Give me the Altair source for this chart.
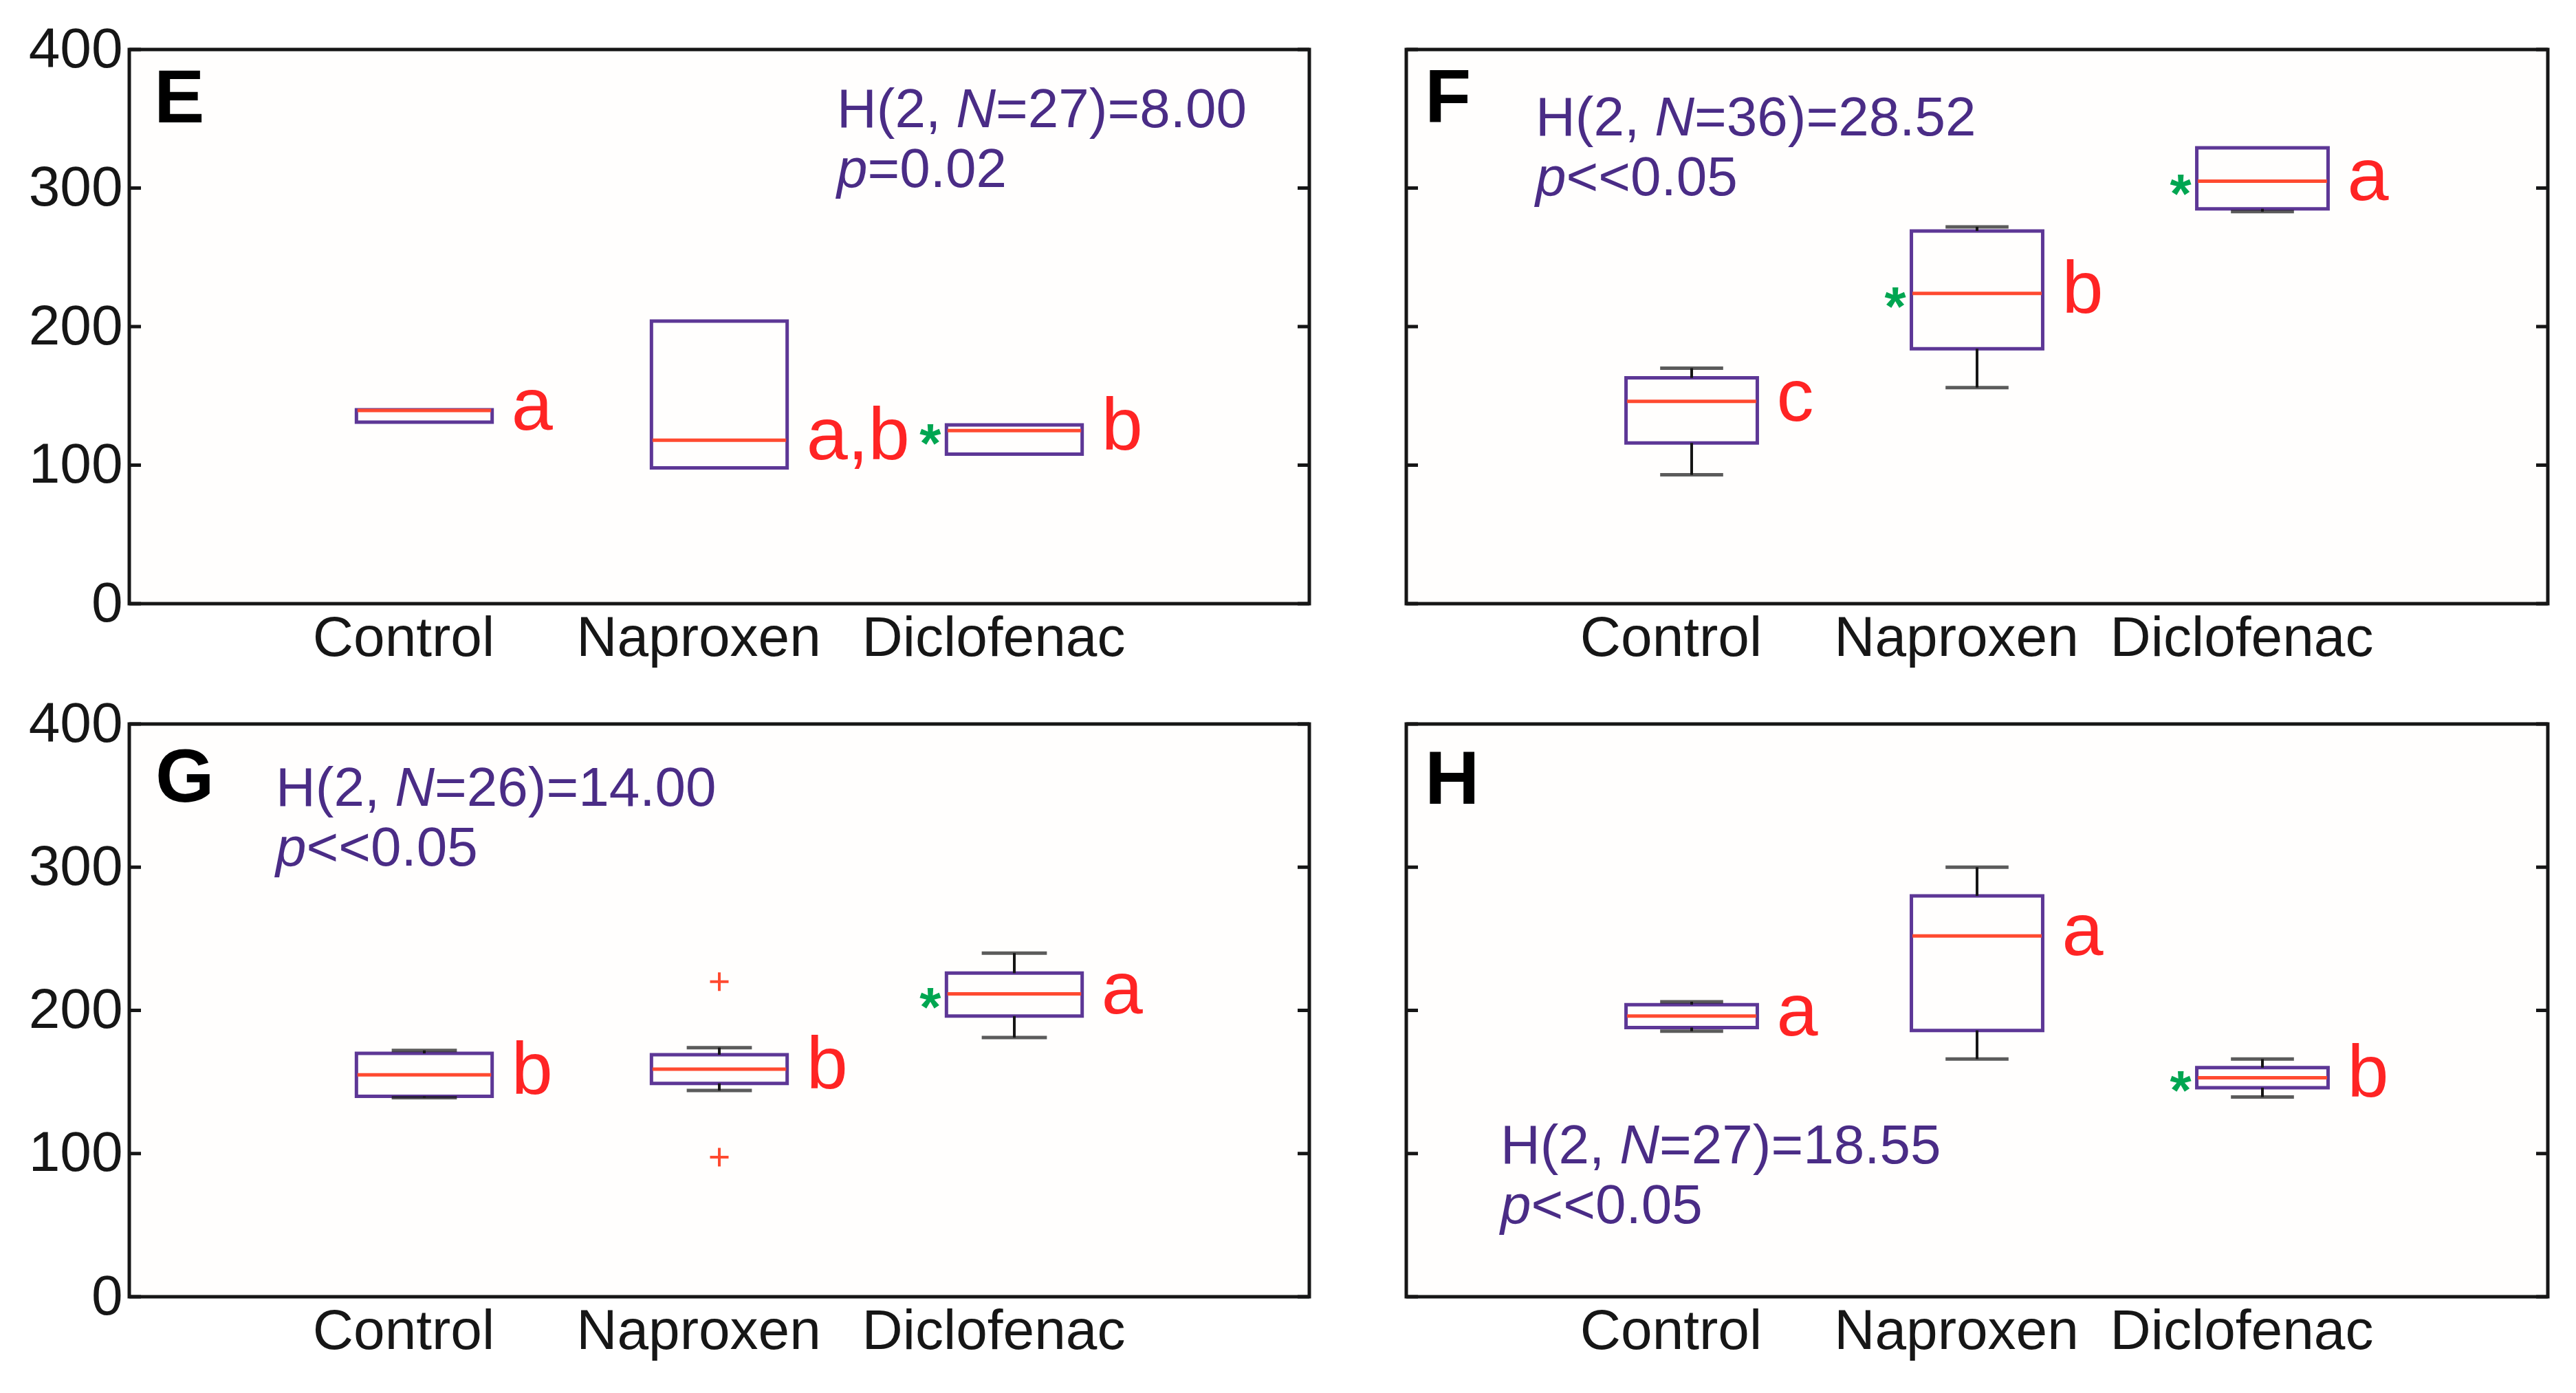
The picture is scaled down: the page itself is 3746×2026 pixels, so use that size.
import altair as alt
import pandas as pd

categories = ["Control", "Naproxen", "Diclofenac"]
y_ticks = [0, 100, 200, 300, 400]

# Panel E
E_min = [131, 98, 108]
E_q1 = [131, 98, 108]
E_median = [139.5, 118, 125]
E_q3 = [140, 204, 129]
E_max = [140, 204, 129]
E_letters = ["a", "a,b", "b"]
E_star = [False, False, True]

# Panel F
F_min = [93, 156, 283]
F_q1 = [116, 184, 285]
F_median = [146, 224, 305]
F_q3 = [163, 269, 329]
F_max = [170, 272, 329]
F_letters = ["c", "b", "a"]
F_star = [False, True, True]

# Panel G
G_min = [139, 144, 181]
G_q1 = [140, 149, 196]
G_median = [155, 159, 211.5]
G_q3 = [170, 169, 226]
G_max = [172, 174, 240]
G_letters = ["b", "b", "a"]
G_star = [False, False, True]
G_outlier_cat = ["Naproxen", "Naproxen"]
G_outlier_val = [220, 97.5]

# Panel H
H_min = [185.5, 166, 139.5]
H_q1 = [188, 186, 146]
H_median = [196, 252, 153]
H_q3 = [204, 280, 160]
H_max = [206, 300, 166]
H_letters = ["a", "a", "b"]
H_star = [False, False, True]

E_stat = [[("H(2, ", False), ("N", True), ("=27)=8.00", False)], [("p", True), ("=0.02", False)]]
F_stat = [[("H(2, ", False), ("N", True), ("=36)=28.52", False)], [("p", True), ("<<0.05", False)]]
G_stat = [[("H(2, ", False), ("N", True), ("=26)=14.00", False)], [("p", True), ("<<0.05", False)]]
H_stat = [[("H(2, ", False), ("N", True), ("=27)=18.55", False)], [("p", True), ("<<0.05", False)]]

FONT = "Liberation Sans, Arial, Helvetica, sans-serif"
PURPLE_TXT = "#4a2c86"
PURPLE_BOX = "#5d3796"
MEDIAN_RED = "#ff4a30"
LETTER_RED = "#ff2424"
GREEN = "#00a651"
BLACK = "#161616"

ARIAL_W = {"H": 722, "(": 333, ")": 333, ",": 278, " ": 278, "N": 722, "=": 584,
           ".": 278, "p": 556, "<": 584}


def text_width(s, size):
    return sum(ARIAL_W.get(c, 556) for c in s) / 1000.0 * size


def make_panel(W, Hh, mins, q1s, meds, q3s, maxs, letters, stars, stat, stat_x, stat_y,
               letter, letter_x, letter_y, show_labels, out_cat=None, out_val=None):
    df = pd.DataFrame({"cat": categories, "min": mins, "q1": q1s, "med": meds,
                       "q3": q3s, "max": maxs, "letter": letters, "star": stars})
    bw = W * 0.115
    yscale = alt.Scale(domain=[0, 400], nice=False, zero=True)
    if show_labels:
        yaxis = alt.Axis(values=y_ticks, ticks=False, domain=False, grid=False, title=None,
                         labelFontSize=82, labelPadding=10, labelColor=BLACK, labelFont=FONT)
    else:
        yaxis = None
    xenc = alt.X("cat:N", sort=categories,
                 scale=alt.Scale(paddingInner=0.54, paddingOuter=0.77),
                 axis=alt.Axis(title=None, labelAngle=0, ticks=False, domain=False,
                               labelFontSize=82, labelPadding=10, labelColor=BLACK,
                               labelFont=FONT, labelLimit=2000, labelOffset=-30))
    base = alt.Chart(df)
    box = base.mark_bar(fill="transparent", stroke=PURPLE_BOX, strokeWidth=5).encode(
        x=xenc, y=alt.Y("q1:Q", scale=yscale, axis=yaxis), y2="q3:Q")
    whisk_up = base.transform_filter("datum.max > datum.q3").mark_rule(
        color=BLACK, strokeWidth=4).encode(x=xenc, y=alt.Y("q3:Q", scale=yscale, axis=yaxis), y2="max:Q")
    whisk_dn = base.transform_filter("datum.min < datum.q1").mark_rule(
        color=BLACK, strokeWidth=4).encode(x=xenc, y=alt.Y("min:Q", scale=yscale, axis=yaxis), y2="q1:Q")
    cap_up = base.transform_filter("datum.max > datum.q3").mark_tick(
        orient="horizontal", color=BLACK, thickness=5, size=bw * 0.48).encode(
        x=xenc, y=alt.Y("max:Q", scale=yscale, axis=yaxis))
    cap_dn = base.transform_filter("datum.min < datum.q1").mark_tick(
        orient="horizontal", color=BLACK, thickness=5, size=bw * 0.48).encode(
        x=xenc, y=alt.Y("min:Q", scale=yscale, axis=yaxis))
    median = base.mark_tick(orient="horizontal", color=MEDIAN_RED, thickness=5,
                            size=bw - 3, opacity=1).encode(
        x=xenc, y=alt.Y("med:Q", scale=yscale, axis=yaxis))
    lett = base.mark_text(align="left", baseline="alphabetic", dx=bw / 2 + 28, dy=28,
                          fontSize=108, font=FONT, color=LETTER_RED).encode(
        x=xenc, y=alt.Y("med:Q", scale=yscale, axis=yaxis), text="letter:N")
    star = base.transform_filter("datum.star").mark_text(
        align="right", baseline="alphabetic", dx=-(bw / 2 + 8), dy=46, fontSize=80,
        fontWeight="bold", font=FONT, color=GREEN, text="*").encode(
        x=xenc, y=alt.Y("med:Q", scale=yscale, axis=yaxis))

    tdf = pd.DataFrame({"v": y_ticks})
    tick_l = alt.Chart(tdf).mark_rule(color=BLACK, strokeWidth=5).encode(
        y=alt.Y("v:Q", scale=yscale, axis=yaxis), x=alt.value(0), x2=alt.value(17))
    tick_r = alt.Chart(tdf).mark_rule(color=BLACK, strokeWidth=5).encode(
        y=alt.Y("v:Q", scale=yscale, axis=yaxis), x=alt.value(W - 17), x2=alt.value(W))

    layers = [tick_l, tick_r, box, whisk_up, whisk_dn, cap_up, cap_dn, median, lett, star]

    if out_cat is not None:
        odf = pd.DataFrame({"cat": out_cat, "val": out_val})
        outl = alt.Chart(odf).mark_point(shape="M-1,0L1,0M0,-1L0,1", filled=False,
                                         size=729, strokeWidth=4, color=MEDIAN_RED,
                                         opacity=1).encode(
            x=xenc, y=alt.Y("val:Q", scale=yscale, axis=yaxis))
        layers.append(outl)

    for li, line in enumerate(stat):
        xx = stat_x
        yy = stat_y + li * 87
        for seg, ital in line:
            t = alt.Chart(pd.DataFrame({"t": [seg]})).mark_text(
                align="left", baseline="alphabetic", fontSize=80, font=FONT,
                fontStyle="italic" if ital else "normal", color=PURPLE_TXT).encode(
                text="t:N", x=alt.value(xx), y=alt.value(yy))
            layers.append(t)
            xx += text_width(seg, 80)

    lt = alt.Chart(pd.DataFrame({"t": [letter]})).mark_text(
        align="left", baseline="alphabetic", fontSize=110, fontWeight="bold", font=FONT,
        color="#000000").encode(text="t:N", x=alt.value(letter_x), y=alt.value(letter_y))
    layers.append(lt)

    return alt.layer(*layers).properties(
        width=W, height=Hh,
        view=alt.ViewBackground(stroke=BLACK, strokeWidth=5, fill="#fffefd"))


pE = make_panel(1716, 806, E_min, E_q1, E_median, E_q3, E_max, E_letters, E_star,
                E_stat, 1029, 113, "E", 36, 106, True)
pF = make_panel(1660, 806, F_min, F_q1, F_median, F_q3, F_max, F_letters, F_star,
                F_stat, 188, 125, "F", 27, 106, False)
pG = make_panel(1716, 833, G_min, G_q1, G_median, G_q3, G_max, G_letters, G_star,
                G_stat, 213, 119, "G", 38, 113, True, G_outlier_cat, G_outlier_val)
pH = make_panel(1660, 833, H_min, H_q1, H_median, H_q3, H_max, H_letters, H_star,
                H_stat, 137, 639, "H", 27, 116, False)

chart = alt.concat(pE, pF, pG, pH, columns=2,
                   spacing={"row": 175, "column": 141}, bounds="flush").properties(
    padding={"left": 30, "top": 20, "right": 10, "bottom": 10}
).configure(background="#ffffff")

chart.save("out.html", embed_options={"renderer": "svg", "actions": False})
